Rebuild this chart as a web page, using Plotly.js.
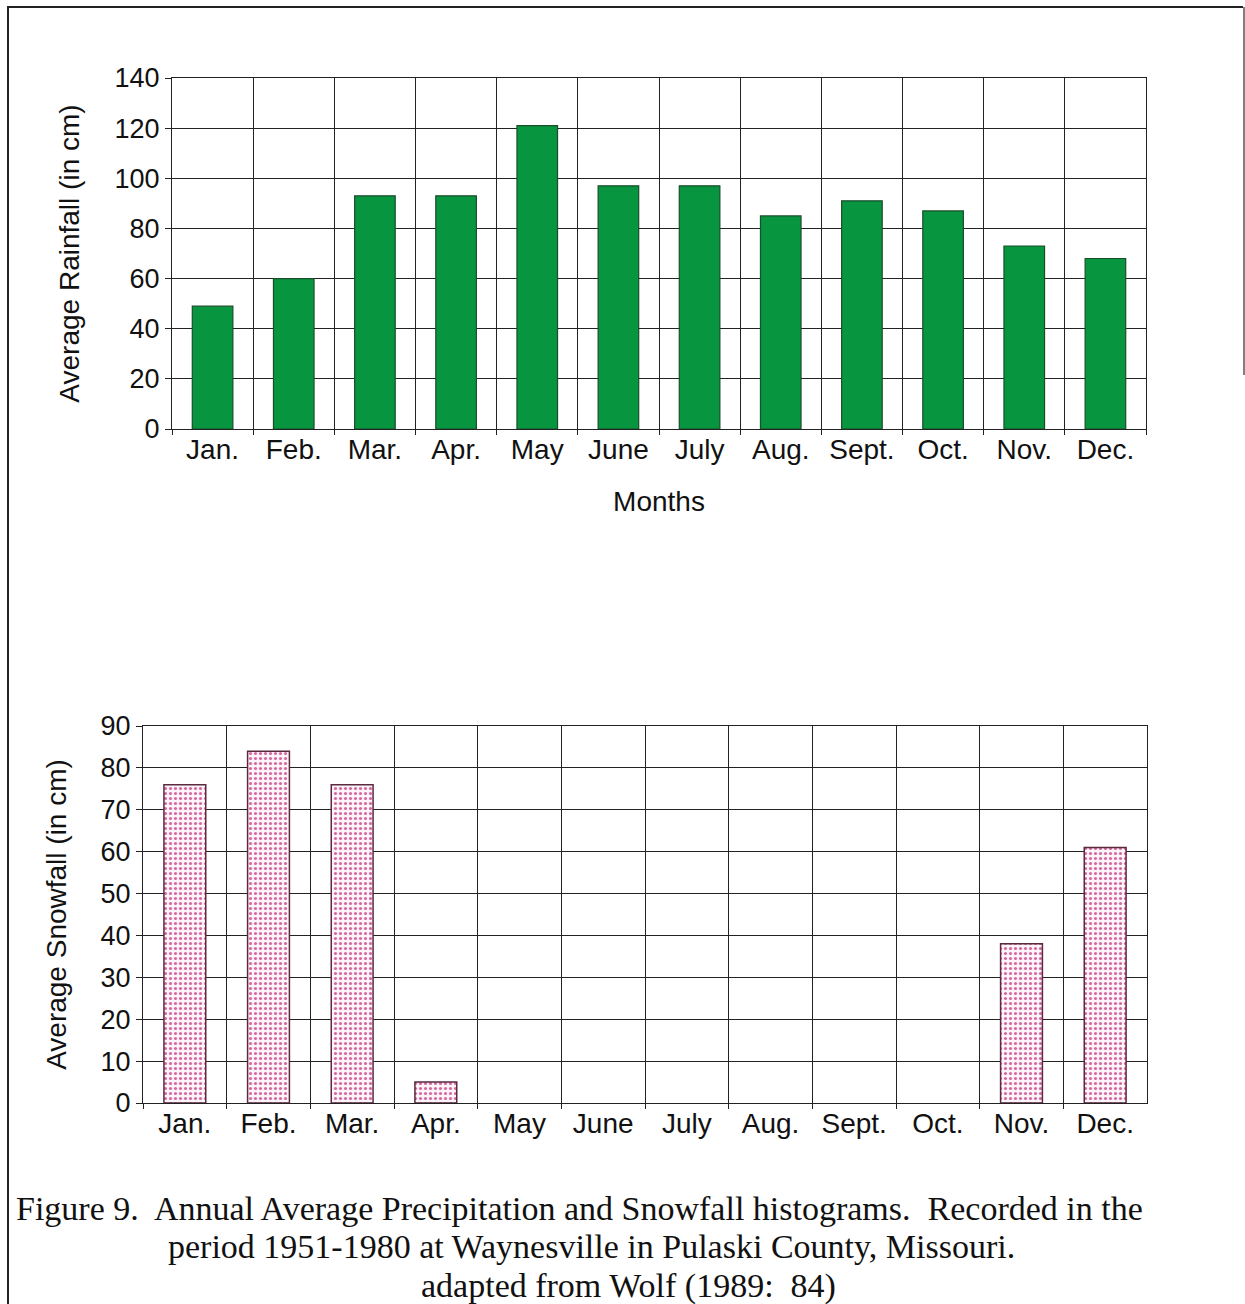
<!DOCTYPE html>
<html>
<head>
<meta charset="utf-8">
<script src="https://cdn.plot.ly/plotly-3.0.1.min.js"></script>
<style>
  html, body { margin: 0; padding: 0; background: #fff; }
  #chart { width: 1245px; height: 1304px; }
</style>
</head>
<body>
<div id="chart"></div>
<script>
const months = ["Jan.", "Feb.", "Mar.", "Apr.", "May", "June", "July", "Aug.", "Sept.", "Oct.", "Nov.", "Dec."];
const rainfall = [49, 60, 93, 93, 121, 97, 97, 85, 91, 87, 73, 68];
const snowfall = [76, 84, 76, 5, 0, 0, 0, 0, 0, 0, 38, 61];
const rainTicks = [0, 20, 40, 60, 80, 100, 120, 140];
const snowTicks = [0, 10, 20, 30, 40, 50, 60, 70, 80, 90];

const W = 1245, H = 1304;
const px = v => v / W;
const py = v => 1 - v / H;

const sans = "Liberation Sans, Arial, sans-serif";
const serif = "Liberation Serif, Times New Roman, serif";

const traces = [
  {
    type: "bar", x: months, y: rainfall, xaxis: "x", yaxis: "y",
    marker: { color: "#07963f", line: { color: "#1b4d2b", width: 1.2 } },
    hoverinfo: "x+y"
  },
  {
    type: "bar", x: months, y: snowfall, xaxis: "x2", yaxis: "y2",
    marker: {
      color: "#fdf3f8",
      line: { color: "#5a2a3e", width: snowfall.map(v => v > 0 ? 1.5 : 0) },
      pattern: { shape: ".", fgcolor: "#d468a0", bgcolor: "#fdf4f9", size: 5, solidity: 0.3 }
    },
    hoverinfo: "x+y"
  }
];

const xCommon = {
  type: "category",
  tickson: "boundaries",
  ticks: "outside", ticklen: 5, tickcolor: "#222", tickwidth: 1,
  ticklabelstandoff: -5,
  showgrid: true, gridcolor: "#222", gridwidth: 1,
  showline: true, linecolor: "#222", linewidth: 1, mirror: true,
  tickfont: { family: sans, size: 28, color: "#111" },
  fixedrange: true
};
const yCommon = {
  ticks: "outside", ticklen: 6, tickcolor: "#222", tickwidth: 1,
  showgrid: true, gridcolor: "#222", gridwidth: 1,
  zeroline: false,
  showline: true, linecolor: "#222", linewidth: 1, mirror: true,
  tickfont: { family: sans, size: 27, color: "#111" },
  fixedrange: true
};

const layout = {
  width: W, height: H,
  margin: { l: 0, r: 0, t: 0, b: 0 },
  paper_bgcolor: "#fff", plot_bgcolor: "#fff",
  showlegend: false,
  bargap: 0.5,
  xaxis: Object.assign({}, xCommon, {
    domain: [px(172), px(1146)], anchor: "y",
    title: { text: "Months", font: { family: sans, size: 28, color: "#111" }, standoff: 27 }
  }),
  yaxis: Object.assign({}, yCommon, {
    domain: [py(429), py(78)], anchor: "x",
    range: [0, 140], tickvals: rainTicks, ticktext: rainTicks.map(String),
    title: { text: "Average Rainfall (in cm)", font: { family: sans, size: 28, color: "#111" }, standoff: 26 }
  }),
  xaxis2: Object.assign({}, xCommon, {
    domain: [px(143), px(1147)], anchor: "y2"
  }),
  yaxis2: Object.assign({}, yCommon, {
    domain: [py(1103), py(726)], anchor: "x2",
    range: [0, 90], tickvals: snowTicks, ticktext: snowTicks.map(String),
    title: { text: "Average Snowfall (in cm)", font: { family: sans, size: 28, color: "#111" }, standoff: 25 }
  }),
  shapes: [
    { type: "line", xref: "paper", yref: "paper", x0: px(7), x1: px(1243), y0: py(7), y1: py(7), line: { color: "#222", width: 2 } },
    { type: "line", xref: "paper", yref: "paper", x0: px(8), x1: px(8), y0: py(7), y1: 0, line: { color: "#222", width: 2 } },
    { type: "line", xref: "paper", yref: "paper", x0: px(1244), x1: px(1244), y0: py(7), y1: py(375), line: { color: "#555", width: 1.5 } }
  ],
  annotations: [
    { xref: "paper", yref: "paper", x: px(14), y: py(1208), xanchor: "left", yanchor: "middle", showarrow: false,
      text: "Figure 9.  Annual Average Precipitation and Snowfall histograms.  Recorded in the",
      font: { family: serif, size: 34, color: "#111" } },
    { xref: "paper", yref: "paper", x: px(591), y: py(1246), xanchor: "center", yanchor: "middle", showarrow: false,
      text: "period 1951-1980 at Waynesville in Pulaski County, Missouri.",
      font: { family: serif, size: 34, color: "#111" } },
    { xref: "paper", yref: "paper", x: px(628), y: py(1286), xanchor: "center", yanchor: "middle", showarrow: false,
      text: "adapted from Wolf (1989:  84)",
      font: { family: serif, size: 34, color: "#111" } }
  ]
};

Plotly.newPlot("chart", traces, layout, { displayModeBar: false, staticPlot: true });
</script>
</body>
</html>
